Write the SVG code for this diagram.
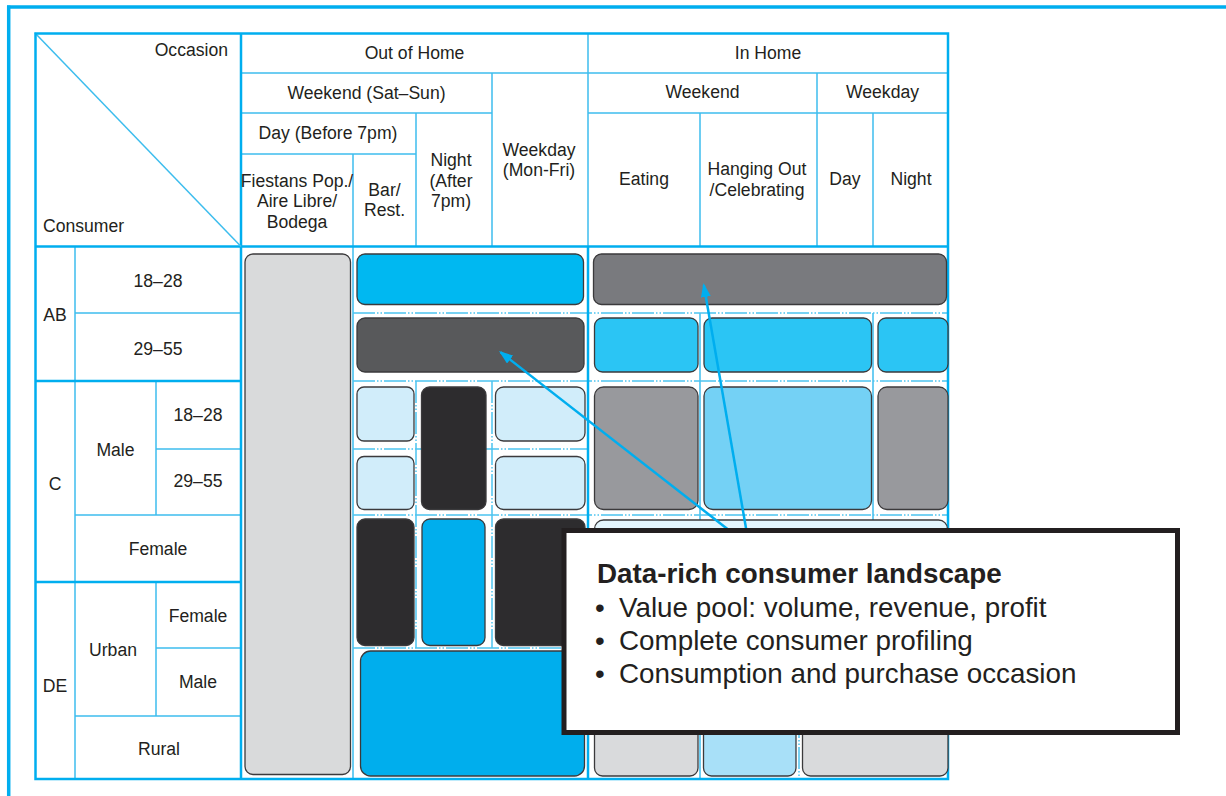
<svg xmlns="http://www.w3.org/2000/svg" width="1226" height="796" viewBox="0 0 1226 796">
<defs>
<style>
.lbl{font-family:"Liberation Sans",Arial,sans-serif;font-size:17.6px;fill:#231f20;text-anchor:middle}
.frame{stroke:#00aeef;stroke-width:3.5;fill:none}
.bd{stroke:#00aeef;stroke-width:2.5;fill:none}
.tn{stroke:#3cbdee;stroke-width:1.5;fill:none}
.dd{stroke:#4cc4f0;stroke-width:1.5;fill:none;stroke-dasharray:22 2 1.5 2 1.5 2}
.blk{stroke:#3b3a3c;stroke-width:1.3}
.arr{stroke:#00aeef;stroke-width:2.5;fill:none;marker-end:url(#ah)}
.co{font-family:"Liberation Sans",Arial,sans-serif;fill:#231f20;font-size:27.8px}
</style>
<marker id="ah" viewBox="0 0 14 10" refX="12" refY="5" markerWidth="14" markerHeight="10" markerUnits="userSpaceOnUse" orient="auto">
<path d="M0,0 L14,5 L0,10 z" fill="#00aeef"/>
</marker>
</defs>
<rect width="1226" height="796" fill="#ffffff"/>

<!-- outer frame -->
<g id="frame">
<line class="frame" x1="7" y1="7" x2="1226" y2="7"/>
<line class="frame" x1="8.7" y1="5.5" x2="8.7" y2="796"/>
</g>

<!-- table grid -->
<g id="grid">
<line class="tn" x1="241" y1="73" x2="948" y2="73"/>
<line class="tn" x1="241" y1="113" x2="492" y2="113"/>
<line class="tn" x1="588" y1="113" x2="948" y2="113"/>
<line class="tn" x1="241" y1="154" x2="416" y2="154"/>
<line class="tn" x1="588" y1="33" x2="588" y2="246"/>
<line class="tn" x1="492" y1="73" x2="492" y2="246"/>
<line class="tn" x1="416" y1="113" x2="416" y2="246"/>
<line class="tn" x1="353" y1="154" x2="353" y2="246"/>
<line class="tn" x1="817" y1="73" x2="817" y2="246"/>
<line class="tn" x1="700" y1="113" x2="700" y2="246"/>
<line class="tn" x1="873" y1="113" x2="873" y2="246"/>
<line class="tn" x1="75" y1="246" x2="75" y2="779"/>
<line class="tn" x1="156" y1="381" x2="156" y2="515"/>
<line class="tn" x1="156" y1="582" x2="156" y2="716"/>
<line class="tn" x1="75" y1="313" x2="241" y2="313"/>
<line class="tn" x1="156" y1="449" x2="241" y2="449"/>
<line class="tn" x1="75" y1="515" x2="241" y2="515"/>
<line class="tn" x1="156" y1="648" x2="241" y2="648"/>
<line class="tn" x1="75" y1="716" x2="241" y2="716"/>
<line class="bd" x1="35" y1="381" x2="241" y2="381"/>
<line class="bd" x1="35" y1="582" x2="241" y2="582"/>
<line class="tn" x1="353" y1="246" x2="353" y2="779"/>
<line class="dd" x1="416" y1="381" x2="416" y2="648"/>
<line class="dd" x1="492" y1="381" x2="492" y2="648"/>
<line class="tn" x1="700" y1="313" x2="700" y2="779"/>
<line class="tn" x1="873" y1="313" x2="873" y2="520"/>
<line class="dd" x1="799" y1="716" x2="799" y2="779"/>
<line class="dd" x1="353" y1="313" x2="948" y2="313"/>
<line class="dd" x1="353" y1="381" x2="948" y2="381"/>
<line class="dd" x1="353" y1="449" x2="588" y2="449"/>
<line class="dd" x1="353" y1="515" x2="948" y2="515"/>
<line class="dd" x1="353" y1="648" x2="588" y2="648"/>
<line class="bd" x1="588" y1="246" x2="588" y2="779"/>
<line class="bd" x1="241" y1="33" x2="241" y2="779"/>
<line class="bd" x1="35" y1="246.5" x2="948" y2="246.5"/>
<line class="tn" x1="35" y1="33" x2="241" y2="246.5"/>
<rect class="bd" x="35.5" y="33.5" width="912.5" height="745.5"/>
</g>

<!-- header labels -->
<g id="header">
<text class="lbl" x="228" y="56" style="text-anchor:end">Occasion</text>
<text class="lbl" x="43" y="232" style="text-anchor:start">Consumer</text>
<text class="lbl" x="414.5" y="59">Out of Home</text>
<text class="lbl" x="768" y="59">In Home</text>
<text class="lbl" x="366.5" y="99">Weekend (Sat–Sun)</text>
<text class="lbl" x="702.5" y="98">Weekend</text>
<text class="lbl" x="882.5" y="98">Weekday</text>
<text class="lbl" x="328" y="139">Day (Before 7pm)</text>
<text class="lbl" x="297" y="187">Fiestans Pop./</text>
<text class="lbl" x="297" y="207">Aire Libre/</text>
<text class="lbl" x="297" y="228">Bodega</text>
<text class="lbl" x="384.5" y="196">Bar/</text>
<text class="lbl" x="384.5" y="216">Rest.</text>
<text class="lbl" x="451" y="166">Night</text>
<text class="lbl" x="451" y="187">(After</text>
<text class="lbl" x="451" y="207">7pm)</text>
<text class="lbl" x="539" y="156">Weekday</text>
<text class="lbl" x="539" y="176">(Mon-Fri)</text>
<text class="lbl" x="644" y="185">Eating</text>
<text class="lbl" x="757" y="175">Hanging Out</text>
<text class="lbl" x="757" y="196">/Celebrating</text>
<text class="lbl" x="845" y="185">Day</text>
<text class="lbl" x="911" y="185">Night</text>
</g>

<!-- consumer labels -->
<g id="consumers">
<text class="lbl" x="55" y="321">AB</text>
<text class="lbl" x="158" y="287">18–28</text>
<text class="lbl" x="158" y="355">29–55</text>
<text class="lbl" x="55" y="490">C</text>
<text class="lbl" x="115.5" y="456">Male</text>
<text class="lbl" x="198" y="421">18–28</text>
<text class="lbl" x="198" y="487">29–55</text>
<text class="lbl" x="158" y="555">Female</text>
<text class="lbl" x="55" y="692">DE</text>
<text class="lbl" x="113" y="656">Urban</text>
<text class="lbl" x="198" y="622">Female</text>
<text class="lbl" x="198" y="688">Male</text>
<text class="lbl" x="159" y="755">Rural</text>
</g>

<!-- data blocks -->
<g id="blocks">
<rect class="blk" x="245" y="254" width="105.5" height="520.5" rx="8" fill="#d9dadb"/>
<rect class="blk" x="357" y="254" width="226.5" height="50.5" rx="8" fill="#00b8f1"/>
<rect class="blk" x="357" y="318" width="227" height="54" rx="8" fill="#58595b"/>
<rect class="blk" x="357" y="387" width="57" height="54" rx="7" fill="#d1edfa"/>
<rect class="blk" x="357" y="456.5" width="57" height="53" rx="7" fill="#d1edfa"/>
<rect class="blk" x="421.5" y="387" width="64.5" height="122.5" rx="8" fill="#2d2c2e"/>
<rect class="blk" x="495.5" y="387" width="89.5" height="54" rx="8" fill="#d1edfa"/>
<rect class="blk" x="495.5" y="456.5" width="89.5" height="53" rx="8" fill="#d1edfa"/>
<rect class="blk" x="357" y="519" width="57" height="126.5" rx="8" fill="#2d2c2e"/>
<rect class="blk" x="422" y="519" width="63" height="126.5" rx="8" fill="#00aeed"/>
<rect class="blk" x="495.5" y="519" width="89.5" height="126.5" rx="8" fill="#2d2c2e"/>
<rect class="blk" x="360.5" y="651" width="224" height="125" rx="10" fill="#00aeed"/>
<rect class="blk" x="593.5" y="254" width="353" height="50.5" rx="8" fill="#797a7e"/>
<rect class="blk" x="594.5" y="318" width="103.5" height="54" rx="8" fill="#2bc5f4"/>
<rect class="blk" x="704" y="318" width="167.5" height="54" rx="8" fill="#2bc5f4"/>
<rect class="blk" x="878" y="318" width="70" height="54" rx="8" fill="#2bc5f4"/>
<rect class="blk" x="594.5" y="387" width="103.5" height="122.5" rx="9" fill="#98999d"/>
<rect class="blk" x="704" y="387" width="167.5" height="122.5" rx="9" fill="#74d1f5"/>
<rect class="blk" x="878" y="387" width="70" height="122.5" rx="9" fill="#98999d"/>
<rect class="blk" x="594.5" y="520" width="353" height="190" rx="9" fill="#e4f5fd"/>
<rect class="blk" x="594.5" y="720" width="103.5" height="56" rx="8" fill="#d9dadc"/>
<rect class="blk" x="703.5" y="720" width="92.5" height="56" rx="8" fill="#a8e0f8"/>
<rect class="blk" x="802.5" y="720" width="145.5" height="56" rx="8" fill="#d9dadc"/>
</g>

<!-- connectors -->
<g id="connectors">
<line class="arr" x1="730" y1="531" x2="500.6" y2="352.2"/>
<line class="arr" x1="746.5" y1="531" x2="703.8" y2="285"/>
</g>

<!-- callout -->
<g id="callout">
<rect x="564" y="530.5" width="613.5" height="202" fill="#ffffff" stroke="#231f20" stroke-width="5"/>
<text class="co" x="597" y="583" style="font-weight:bold">Data-rich consumer landscape</text>
<text class="co" x="595" y="617">•</text>
<text class="co" x="619" y="617">Value pool: volume, revenue, profit</text>
<text class="co" x="595" y="650">•</text>
<text class="co" x="619" y="650">Complete consumer profiling</text>
<text class="co" x="595" y="683">•</text>
<text class="co" x="619" y="683">Consumption and purchase occasion</text>
</g>
</svg>
